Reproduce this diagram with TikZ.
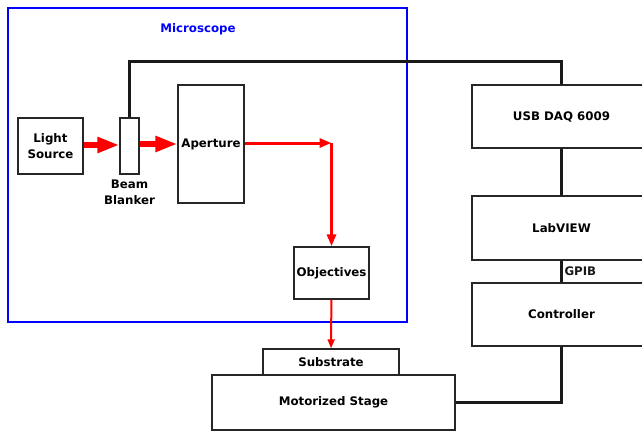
\documentclass[tikz,border=0pt]{standalone}
\usepackage{fontspec}
\setmainfont{DejaVu Sans}
\usepackage{tikz}
\usetikzlibrary{arrows.meta}
\usetikzlibrary{positioning}

\begin{document}
\begin{tikzpicture}[x=1pt, y=-1pt, font=\fontsize{11.8}{16}\selectfont\bfseries,
    every node/.style={align=center, inner sep=0pt},
    box/.style={draw=black!85, line width=1.4pt, fill=white},
    wire/.style={line width=3pt, black!90},
    beam/.style={red, line width=6pt, -{Triangle[length=22pt, width=15pt]}},
    ray/.style={red, line width=3pt, -{Triangle[length=12pt, width=9pt]}},
    thinray/.style={red, line width=2pt, -{Triangle[length=9pt, width=7pt]}}]
        \clip (0,0) rectangle (642,434);

        \node[draw=blue, line width=2.8pt, minimum width=399pt, minimum height=314pt] (frame) at (207.5,165) {};
        \node[text=blue] (title) at (198,29) {Microscope};

        \node[box, minimum width=65pt, minimum height=56pt] (light) at (50.5,146) {Light\\Source};

        \node[box, minimum width=19pt, minimum height=56pt] (blanker) at (129.5,146) {};
        \node[below=5pt of blanker] (blankerlabel) {Beam\\Blanker};

        \node[box, minimum width=66pt, minimum height=118pt] (aperture) at (211,144) {Aperture};

        \node[box, minimum width=75pt, minimum height=52pt] (objectives) at (331.5,273) {Objectives};

        \node[box, minimum width=136pt, minimum height=26pt] (substrate) at (331,362) {Substrate};

        \node[box, minimum width=243pt, minimum height=55pt] (stage) at (333.5,402.5) {Motorized Stage};

        \node[box, minimum width=179pt, minimum height=63pt] (usb) at (561.5,116.5) {USB DAQ 6009};

        \node[box, minimum width=179pt, minimum height=64pt] (labview) at (561.5,228) {LabVIEW};

        \node[box, minimum width=179pt, minimum height=63pt] (controller) at (561.5,314.5) {Controller};

        \coordinate (top) at (0,61.5);
        \coordinate (corner) at (331.5,143);

        \draw[wire] (blanker.north) -- (blanker.north |- top) -| (usb.north);
        \draw[wire] (usb) -- (labview);
        \draw[wire] (labview) -- (controller) node[midway, right=1.5pt] {GPIB};
        \draw[wire] (controller.south) |- (stage.east);

        \draw[beam] (light.east |- 0,145) -- (blanker.west |- 0,145);
        \draw[beam] (blanker.east |- 0,144) -- (aperture.west |- 0,144);
        \draw[ray] (aperture.east |- corner) -- (corner);
        \draw[ray] (corner) -- (objectives.north);
        \draw[thinray] (objectives) -- (substrate);
      \end{tikzpicture}
\end{document}
